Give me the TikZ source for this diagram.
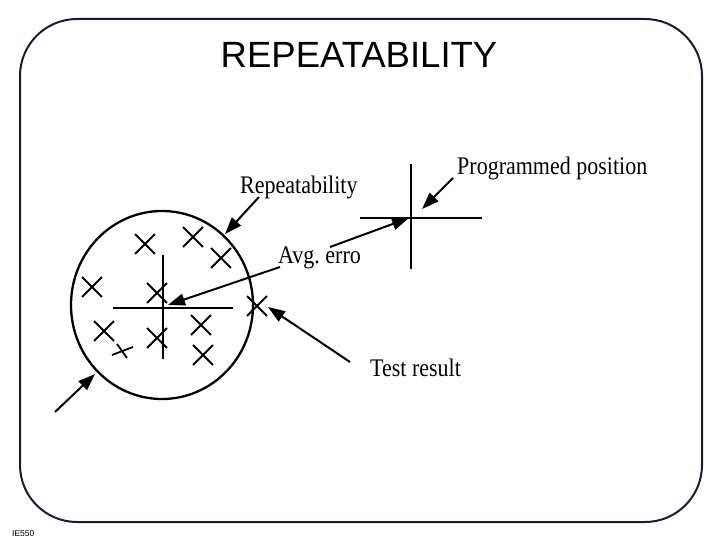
\documentclass[tikz,border=0pt]{standalone}
\usepackage{fontspec}
\setmainfont{Liberation Serif}
\newfontfamily\titlefont{Liberation Sans}
\usetikzlibrary{arrows.meta,shapes.misc,shapes.geometric}
\definecolor{framecol}{HTML}{141C38}
\newcommand\vstretch[1]{\scalebox{1}[1.15]{#1}}
\frenchspacing
\tikzset{
  lbl/.style={anchor=base west, inner sep=0pt, font=\fontsize{22}{24}\selectfont},
  xmark/.style={cross out, draw, line width=1.8pt, minimum size=18pt, inner sep=0pt},
  conn/.style={line width=2pt, -{Triangle[length=17pt,width=12pt]}},
  hair/.style={line width=2pt},
}
\begin{document}
\begin{tikzpicture}[x=1pt,y=-1pt]
\useasboundingbox (0,0) rectangle (720,540);
% frame
\draw[framecol, line width=2pt, rounded corners=57pt] (20,19) rectangle (702,522);
% title
\node[anchor=base, inner sep=0pt, font=\titlefont\fontsize{36.5}{40}\selectfont] (title) at (359,68) {REPEATABILITY};
\node[anchor=base west, inner sep=0pt, font=\titlefont\fontsize{8.5}{9}\selectfont] (foot) at (12,536) {IE550};
% circle
\node[draw, ellipse, line width=2.3pt, minimum width=182pt, minimum height=188pt, inner sep=0pt] (circ) at (162,305) {};
% inner crosshair
\coordinate (vt) at (163,255); \coordinate (vb) at (163,359);
\coordinate (hl) at (113,308); \coordinate (hr) at (233,308);
\draw[hair] (vt) -- (vb);
\draw[hair] (hl) -- (hr);
% test marks
\node[xmark] (m1) at (145,244) {};
\node[xmark] (m2) at (193,237) {};
\node[xmark] (m3) at (221,258) {};
\node[xmark] (m4) at (92,287) {};
\node[xmark] (m5) at (157,293) {};
\node[xmark] (m6) at (257,306) {};
\node[xmark] (m7) at (104,331) {};
\node[xmark] (m9) at (157,338) {};
\node[xmark] (m10) at (201,325) {};
\node[xmark] (m11) at (203,355) {};
\coordinate (m8a) at (117,344); \coordinate (m8b) at (127,358);
\coordinate (m8c) at (112,355); \coordinate (m8d) at (133,347);
\draw[line width=1.8pt] (m8a) -- (m8b);
\draw[line width=1.8pt] (m8c) -- (m8d);
% programmed position crosshair
\coordinate (pt) at (411,164); \coordinate (pb) at (411,269);
\coordinate (pl) at (360,218); \coordinate (pr) at (482,218);
\coordinate (pc) at (409,218);
\draw[hair] (pt) -- (pb);
\draw[hair] (pl) -- (pr);
% labels
\node[lbl] (lrep) at (240,194) {\vstretch{Repeatability}};
\node[lbl] (lprog) at (457,175) {\vstretch{Programmed position}};
\node[lbl] (lavg) at (278,263) {\vstretch{Avg. erro}};
\node[lbl] (ltest) at (370,376) {\vstretch{Test result}};
% arrows
\coordinate (a1s) at (259,197); \coordinate (a1t) at (225,234);
\draw[conn] (a1s) -- (a1t);
\coordinate (a2s) at (280,267); \coordinate (a2t) at (168,305);
\draw[conn] (a2s) -- (a2t);
\coordinate (a3s) at (330,247);
\draw[conn] (a3s) -- (pc);
\coordinate (a4s) at (453,178); \coordinate (a4t) at (422,209);
\draw[conn] (a4s) -- (a4t);
\coordinate (a5s) at (350,362); \coordinate (a5t) at (268,307);
\draw[conn] (a5s) -- (a5t);
\coordinate (a6s) at (55,412); \coordinate (a6t) at (95,374);
\draw[conn] (a6s) -- (a6t);
\end{tikzpicture}
\end{document}
